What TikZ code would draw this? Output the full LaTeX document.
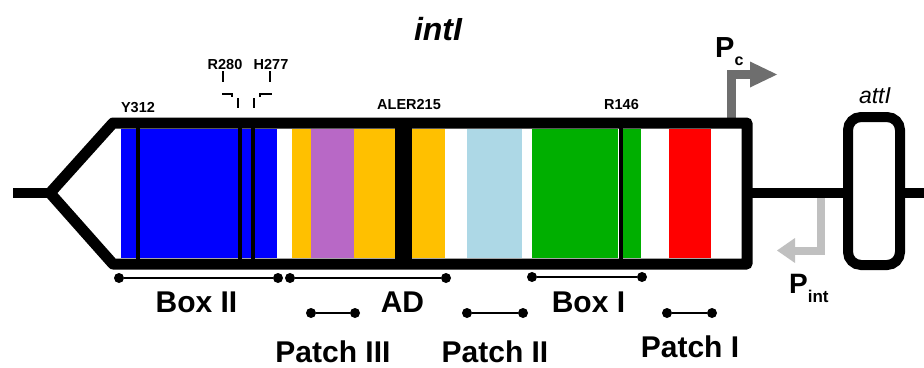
\documentclass[tikz,border=0pt]{standalone}
\usepackage{fontspec}
\setmainfont{Liberation Sans}
\usetikzlibrary{calc}
\definecolor{cblue}{HTML}{0000FF}
\definecolor{corange}{HTML}{FFC000}
\definecolor{cpurple}{HTML}{B868C6}
\definecolor{clblue}{HTML}{ADD8E6}
\definecolor{cgreen}{HTML}{00AF00}
\definecolor{cred}{HTML}{FF0000}
\definecolor{cgrayd}{HTML}{6E6E6E}
\definecolor{cgrayl}{HTML}{C0C0C0}
\newcommand{\fsz}[1]{\fontsize{#1}{#1}\selectfont}
\tikzset{
  band/.style={fill=#1, draw=none},
  thinbar/.style={line width=4pt, black},
  outline/.style={line width=11pt, black, line join=round},
  backbone/.style={line width=10pt, black},
  site/.style={font=\fsz{14.5}\bfseries, inner sep=0pt, anchor=base},
  big/.style={font=\fsz{30}\bfseries, inner sep=0pt, anchor=base},
  tick/.style={line width=2.5pt, black},
  dumb/.style={line width=2pt, black},
  dot/.style={circle, fill=black, inner sep=0pt, minimum size=10pt},
}
\begin{document}
\begin{tikzpicture}[x=1pt, y=-1pt]
\useasboundingbox (0,0) rectangle (924,367);
% backbone
\draw[backbone] (13,193) -- (50,193);
\draw[backbone] (747,193) -- (924,193);
% white interior
\fill[white] (50,193) -- (113,123) -- (747,123) -- (747,264) -- (113,264) -- cycle;
% bands
\foreach \a/\b/\c in {121/277/cblue, 292/311/corange, 311/354/cpurple, 354/395/corange,
  412/445/corange, 467/522/clblue, 532/618/cgreen, 623/641/cgreen, 669/711/cred}
  \fill[band=\c] (\a,129) rectangle (\b,258);
% thin bars
\foreach \x in {137.5, 240, 253, 620.5}
  \draw[thinbar] (\x,123) -- (\x,264);
% thick divider
\draw[line width=17pt] (403.5,123) -- (403.5,264);
% P_c promoter (gray)
\draw[cgrayd, line width=9pt, line join=miter] (731.5,123) -- (731.5,74.5) -- (752,74.5);
\fill[cgrayd] (750,61.5) -- (777,74.5) -- (750,87.5) -- cycle;
% outline
\draw[outline] (50,193) -- (113,123) -- (747,123) -- (747,264) -- (113,264) -- cycle;
% P_int promoter (light gray)
\draw[cgrayl, line width=8pt, line join=miter] (820.5,198) -- (820.5,250.5) -- (793,250.5);
\fill[cgrayl] (795,238) -- (777,250.5) -- (795,263) -- cycle;
% attI box
\draw[line width=10pt, fill=white, rounded corners=13pt] (848,117) rectangle (900,265);
% site labels
\node[site] (y312) at (138,112) {Y312};
\node[site] (r280) at (225,69) {R280};
\node[site] (h277) at (271,69) {H277};
\node[site] (aler) at (409,109) {ALER215};
\node[site] (r146) at (621.5,109) {R146};
% R280 / H277 dashed elbows
\draw[tick] (223,71) -- (223,82);
\draw[tick] (222,94) -- (232,94) -- (232,97);
\draw[tick] (238,98) -- (238,108);
\draw[tick] (270,71) -- (270,82);
\draw[tick] (260,97) -- (260,94) -- (272,94);
\draw[tick] (254,98) -- (254,108);
% titles
\node[font=\fsz{32}\bfseries\itshape, inner sep=0pt, anchor=base] (intI) at (438,40) {intI};
\node[font=\fsz{23}\itshape, inner sep=0pt, anchor=base] (attI) at (875,103) {attI};
\node[inner sep=0pt, anchor=base west] (pc) at (715,57) {\fsz{29}\bfseries P\raisebox{-8pt}{\fsz{16}c}};
\node[inner sep=0pt, anchor=base west] (pint) at (789,293) {\fsz{28}\bfseries P\raisebox{-9pt}{\fsz{17}int}};
% domain dumbbells
\foreach \n/\a/\b/\y in {b2/119/278/278, ad/290/446/278, b1/532/642/277,
  p3/311/355/313, p2/467/523/313, p1/667/712/313} {
  \node[dot] (\n l) at (\a,\y) {};
  \node[dot] (\n r) at (\b,\y) {};
  \draw[dumb] (\n l) -- (\n r);
}
% domain labels
\node[big] (lb2) at (196.5,312) {Box II};
\node[big] (lad) at (402.5,312) {AD};
\node[big] (lb1) at (588.5,312) {Box I};
\node[big] (lp3) at (333,362) {Patch III};
\node[big] (lp2) at (495,362) {Patch II};
\node[big] (lp1) at (690,357) {Patch I};
\end{tikzpicture}
\end{document}
